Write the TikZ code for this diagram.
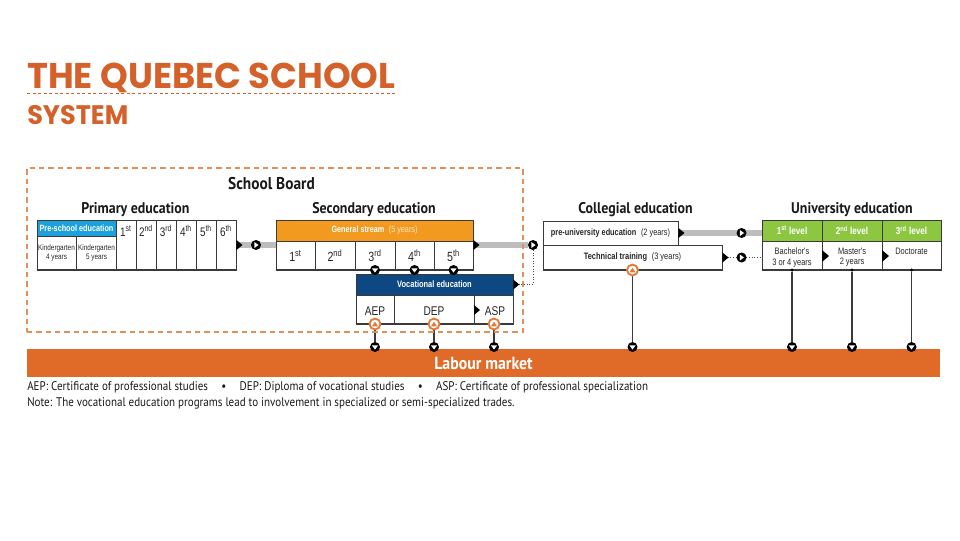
\documentclass[tikz,border=0pt]{standalone}
\usepackage{fontspec}
\usepackage{graphicx}
\setmainfont{PT Sans}
\newfontfamily\titlefont{Poppins}
\newfontfamily\headfont[FakeStretch=0.9]{PT Sans}
\newfontfamily\capfont[FakeStretch=0.88]{PT Sans}
\newfontfamily\cond[FakeStretch=0.8]{Liberation Sans}
\usetikzlibrary{fit,calc}
\pgfdeclarelayer{bg}
\pgfsetlayers{bg,main}
\definecolor{qorange}{HTML}{D4602A}
\definecolor{labour}{HTML}{E06A28}
\definecolor{boardc}{HTML}{E0915A}
\definecolor{gen}{HTML}{F29A1F}
\definecolor{prec}{HTML}{1DA1DC}
\definecolor{voc}{HTML}{0D4883}
\definecolor{unic}{HTML}{8DC641}
\definecolor{bord}{HTML}{3A3A3A}
\definecolor{barc}{HTML}{BDBDBD}
\definecolor{markc}{HTML}{E07B3C}
\begin{document}
\begin{tikzpicture}[x=0.75pt,y=-0.75pt,
  frame/.style={draw=bord, line width=0.7pt, inner sep=0pt},
  hfill/.style={inner sep=0pt},
  grid/.style={draw=bord, line width=0.6pt},
  bottomline/.style={draw=bord, line width=1.5pt},
  head/.style={font=\headfont\bfseries\fontsize{11.6}{13}\selectfont, text=black!90, anchor=base, inner sep=0pt},
  hdtext/.style={font=\cond\bfseries\fontsize{6.8}{7.8}\selectfont, text=white, inner sep=0pt},
  celltext/.style={font=\cond\fontsize{6}{7}\selectfont, align=center, inner sep=0pt, text=black!85},
  grade/.style={font=\cond\fontsize{9.3}{10}\selectfont, inner sep=0pt, text=black!85},
  sgrade/.style={font=\cond\fontsize{10}{11}\selectfont, inner sep=0pt, text=black!85},
  vgrade/.style={font=\cond\fontsize{9.5}{10.5}\selectfont, inner sep=0pt, text=black!85},
  barline/.style={draw=barc, line width=5.2pt},
  dotline/.style={draw=black!70, line width=0.7pt, dash pattern=on 0.7pt off 1.3pt},
  vline/.style={draw=bord, line width=0.9pt},
  rtri/.pic={\fill[black] (0,-5) -- (6,0) -- (0,5) -- cycle;},
  btri/.pic={\fill[black] (0,-6) -- (7,0) -- (0,6) -- cycle;},
  mdown/.style={circle, fill=black, inner sep=0pt, minimum size=7.5pt,
    path picture={\fill[white] ([xshift=-2.3pt,yshift=1.2pt]path picture bounding box.center) -- ++(4.6pt,0pt) -- ++(-2.3pt,-3.1pt) -- cycle;}},
  mright/.style={circle, fill=black, inner sep=0pt, minimum size=7.5pt,
    path picture={\fill[white] ([xshift=-1.3pt,yshift=2.3pt]path picture bounding box.center) -- ++(3.2pt,-2.3pt) -- ++(-3.2pt,-2.3pt) -- cycle;}},
  mup/.style={circle, fill=white, draw=markc, line width=1.4pt, inner sep=0pt, minimum size=8.2pt,
    path picture={\fill[markc] ([xshift=-2.3pt,yshift=-1.7pt]path picture bounding box.center) -- ++(4.6pt,0pt) -- ++(-2.3pt,3.4pt) -- cycle;}},
  mdot/.style={circle, fill=black, inner sep=0pt, minimum size=2.6pt},
]
\useasboundingbox (0,0) rectangle (960,540);

% ---------- title ----------
\node[anchor=base west, inner sep=0pt, text=qorange] (t1) at (27,88)
  {\resizebox{276pt}{19.1pt}{\titlefont\bfseries THE QUEBEC SCHOOL}};
\draw[qorange, line width=0.6pt, dash pattern=on 2.25pt off 1.9pt] (27,93) -- (395,93);
\node[anchor=base west, inner sep=0pt, text=qorange] (t2) at (27,124)
  {\resizebox{75.75pt}{14.3pt}{\titlefont\bfseries SYSTEM}};

% ---------- school board ----------
\node[fit={(27,168)(523,332)}, inner sep=0pt, draw=boardc, line width=0.8pt, dash pattern=on 4pt off 3pt] (board) {};
\node[head, font=\headfont\bfseries\fontsize{12.8}{14}\selectfont] (boardlbl) at (271.5,189) {School Board};

% ---------- headings ----------
\node[head] (hprim) at (135.5,213) {Primary education};
\node[head] (hsec) at (374,213) {Secondary education};
\node[head] (hcol) at (635.5,213) {Collegial education};
\node[head] (huni) at (852,213) {University education};

% ---------- primary ----------
\node[fit={(37,220)(116,236)}, hfill, fill=prec] (preh) {};
\node[hdtext] at (preh.center) {Pre-school education};
\node[fit={(37,220)(236,270)}, frame] (prim) {};
\draw[grid] (37,236) -- (116,236) (76,236) -- (76,270);
\foreach \x in {116,136,156,176,196,216} \draw[grid] (\x,220) -- (\x,270);
\draw[bottomline] (prim.south west) -- (prim.south east);
\node[celltext] at (56.5,253) {Kindergarten\\4 years};
\node[celltext] at (96.5,253) {Kindergarten\\5 years};
\node[grade] at (126,231) {1\textsuperscript{st}};
\node[grade] at (146,231) {2\textsuperscript{nd}};
\node[grade] at (166,231) {3\textsuperscript{rd}};
\node[grade] at (186,231) {4\textsuperscript{th}};
\node[grade] at (206,231) {5\textsuperscript{th}};
\node[grade] at (226,231) {6\textsuperscript{th}};

% ---------- secondary ----------
\node[fit={(276,220)(473,241)}, hfill, fill=gen] (genh) {};
\node[hdtext] at (genh.center) {General stream\enspace{\mdseries\color{white!75!gen}(5 years)}};
\node[fit={(276,220)(473,270)}, frame] (sec) {};
\draw[grid] (276,241) -- (473,241);
\foreach \x in {315,355,395,434} \draw[grid] (\x,241) -- (\x,270);
\draw[bottomline] (sec.south west) -- (sec.south east);
\node[sgrade] at (295.5,256) {1\textsuperscript{st}};
\node[sgrade] at (335,256) {2\textsuperscript{nd}};
\node[sgrade] at (375,256) {3\textsuperscript{rd}};
\node[sgrade] at (414.5,256) {4\textsuperscript{th}};
\node[sgrade] at (453.5,256) {5\textsuperscript{th}};

% ---------- vocational ----------
\node[fit={(356,274)(513,295)}, hfill, fill=voc] (voch) {};
\node[hdtext, font=\cond\bfseries\fontsize{7}{8}\selectfont] at (voch.center) {Vocational education};
\node[fit={(356,274)(513,324)}, frame] (voc) {};
\draw[grid] (356,295) -- (513,295) (394,295) -- (394,324) (474,295) -- (474,324);
\draw[bottomline] (voc.south west) -- (voc.south east);
\node[vgrade] (aep) at (375,311) {AEP};
\node[vgrade] (dep) at (434,311) {DEP};
\node[vgrade] (asp) at (495,311) {ASP};
\pic at (474,310) {rtri};

% ---------- collegial ----------
\node[fit={(543,221)(678,245)}, frame] (preu) {};
\node[font=\cond\fontsize{6.9}{7.9}\selectfont, inner sep=0pt, text=black!85] at (preu.center) {\textbf{pre-university education}\enspace(2 years)};
\node[fit={(543,245)(722,270)}, frame] (tech) {};
\node[font=\cond\fontsize{7}{8}\selectfont, inner sep=0pt, text=black!85] at (tech.center) {\textbf{Technical training}\enspace(3 years)};
\draw[bottomline] (tech.south west) -- (tech.south east);

% ---------- university ----------
\node[fit={(762,220)(941,241)}, hfill, fill=unic] (unih) {};
\node[fit={(762,220)(941,270)}, frame] (uni) {};
\draw[grid] (762,241) -- (941,241) (822,220) -- (822,270) (882,220) -- (882,270);
\draw[bottomline] (uni.south west) -- (uni.south east);
\node[hdtext, font=\cond\bfseries\fontsize{7.6}{8.6}\selectfont] at (792,230.5) {1\textsuperscript{st} level};
\node[hdtext, font=\cond\bfseries\fontsize{7.6}{8.6}\selectfont] at (852,230.5) {2\textsuperscript{nd} level};
\node[hdtext, font=\cond\bfseries\fontsize{7.6}{8.6}\selectfont] at (911.5,230.5) {3\textsuperscript{rd} level};
\node[celltext, anchor=north, font=\cond\fontsize{7}{8}\selectfont] at (792,247.5) {Bachelor's\\3 or 4 years};
\node[celltext, anchor=north, font=\cond\fontsize{7}{8}\selectfont] at (852,247.5) {Master's\\2 years};
\node[celltext, anchor=north, font=\cond\fontsize{7}{8}\selectfont] at (911.5,247.5) {Doctorate};
\pic at (822,256) {btri};
\pic at (882,256) {btri};

% ---------- labour market ----------
\node[fit={(27,349)(940,377)}, hfill, fill=labour] (lab) {};
\node[font=\headfont\bfseries\fontsize{13.2}{15}\selectfont, text=white, inner sep=0pt] at (lab.center) {Labour market};

% ---------- markers ----------
\node[mright] (m1) at ($(prim.east)!0.5!(sec.west)$) {};
\node[mright] (mSC) at (533,245) {};
\node[mright] (mPU) at ($(preu.east -| uni.west)+(-20,0)$) {};
\node[mright] (mTE) at ($(tech.east -| uni.west)+(-20,0)$) {};

\node[mdown] (s3) at (375,270) {};
\node[mdown] (s4) at (414.5,270) {};
\node[mdown] (s5) at (453.5,270) {};

\node[mup] (uA) at (375,324) {};
\node[mup] (uD) at (434,324) {};
\node[mup] (uS) at (494,324) {};
\node[mup] (uT) at (632.5,270) {};

\node[mdot] (b1) at (792,270) {};
\node[mdot] (b2) at (852,270) {};
\node[mdot] (b3) at (911.5,270) {};

\node[mdown] (dA) at (375,347) {};
\node[mdown] (dD) at (434,347) {};
\node[mdown] (dS) at (494,347) {};
\node[mdown] (dT) at (632.5,347) {};
\node[mdown] (dB) at (792,347) {};
\node[mdown] (dM) at (852,347) {};
\node[mdown] (dDo) at (911.5,347) {};

% edge triangles
\pic at (prim.east) {rtri};
\pic at (sec.east) {rtri};
\pic at (voch.east) {rtri};
\pic at (preu.east) {rtri};
\pic at (tech.east) {rtri};

% ---------- connectors ----------
\begin{pgfonlayer}{bg}
\draw[barline] (prim.east) -- (sec.west);
\draw[barline] (sec.east) -- (mSC);
\draw[dotline] (voch.east) -| (mSC);
\draw[barline] (preu.east) -- (preu.east -| uni.west);
\draw[dotline] (tech.east) -- (tech.east -| uni.west);
\draw[vline] (uA) -- (dA);
\draw[vline] (uD) -- (dD);
\draw[vline] (uS) -- (dS);
\draw[vline] (uT) -- (dT);
\draw[vline] (b1) -- (dB);
\draw[vline] (b2) -- (dM);
\draw[vline] (b3) -- (dDo);
\end{pgfonlayer}

% ---------- captions ----------
\node[anchor=base west, inner sep=0pt, font=\capfont\fontsize{9.4}{11}\selectfont, text=black!90] (cap1) at (27,390)
  {AEP: Certificate of professional studies\hspace{10pt}\textbullet\hspace{10pt}DEP: Diploma of vocational studies\hspace{10pt}\textbullet\hspace{10pt}ASP: Certificate of professional specialization};
\node[anchor=base west, inner sep=0pt, font=\capfont\fontsize{9.4}{11}\selectfont, text=black!90] (cap2) at (27,406)
  {Note: The vocational education programs lead to involvement in specialized or semi-specialized trades.};
\end{tikzpicture}
\end{document}
